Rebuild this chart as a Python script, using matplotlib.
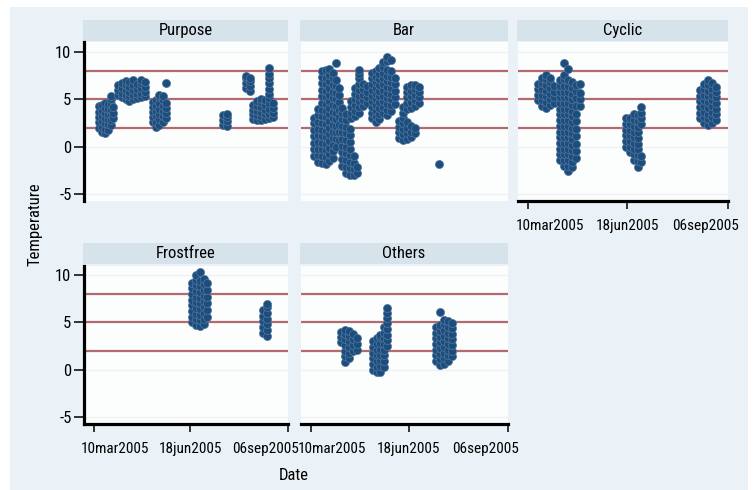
import matplotlib
matplotlib.use("Agg")
import matplotlib.pyplot as plt
from matplotlib.patches import Rectangle
from matplotlib import font_manager
import numpy as np

names = {f.name for f in font_manager.fontManager.ttflist}
cands = ['Roboto Condensed', 'Liberation Sans Narrow', 'DejaVu Sans Condensed', 'Open Sans Condensed']
avail = [c for c in cands if c in names]
plt.rcParams['font.family'] = avail + ['Liberation Sans', 'DejaVu Sans']
NARROW = len(avail) > 0

# ---------------- data ----------------
panel_names = ["Purpose", "Bar", "Cyclic", "Frostfree", "Others"]
ref_lines = [2, 5, 8]
y_ticks = [-5, 0, 5, 10]
x_tick_pos = [0, 100, 201]
x_label_pos = [22, 100, 178]
x_tick_labels = ["10mar2005", "18jun2005", "06sep2005"]

# each entry: (day index, temperatures observed that day)
purpose = [
    (6, [2.0, 2.6, 3.1, 3.7, 4.3]),
    (9, [1.5, 2.1, 2.7, 3.2, 3.8, 4.4]),
    (12, [1.4, 1.9, 2.5, 3.0, 3.6, 4.1, 4.6]),
    (15, [1.8, 2.4, 2.9, 3.5, 4.0, 4.5]),
    (18, [2.3, 2.8, 3.4, 3.9, 4.5, 5.0, 5.3]),
    (20, [3.0, 3.6, 4.2]),
    (25, [5.5, 6.0, 6.5]),
    (29, [5.2, 5.7, 6.2, 6.7]),
    (33, [5.0, 5.5, 6.0, 6.5, 6.9]),
    (37, [4.8, 5.3, 5.8, 6.3, 6.8]),
    (41, [5.0, 5.5, 6.0, 6.5, 7.0]),
    (45, [5.1, 5.6, 6.1, 6.6]),
    (49, [5.2, 5.7, 6.2, 6.7, 7.0]),
    (53, [5.3, 5.8, 6.3, 6.8]),
    (61, [2.6, 3.1, 3.7, 4.2, 4.7]),
    (64, [2.1, 2.6, 3.2, 3.8, 4.3, 4.9]),
    (68, [2.3, 2.9, 3.4, 4.0, 4.6, 5.2, 5.5]),
    (72, [2.6, 3.2, 3.8, 4.3, 4.9, 5.4]),
    (75, [3.0, 3.6, 4.1, 4.6, 6.7]),
    (134, [2.3, 2.8, 3.3]),
    (138, [2.2, 2.7, 3.1, 3.5]),
    (158, [6.2, 6.7, 7.2, 7.5]),
    (162, [5.9, 6.4, 6.9, 7.3]),
    (165, [2.9, 3.4, 3.9, 4.4]),
    (169, [2.8, 3.3, 3.8, 4.3, 4.8]),
    (173, [2.8, 3.2, 3.7, 4.2, 4.7, 5.0]),
    (177, [2.9, 3.4, 3.9, 4.4, 4.9]),
    (181, [3.0, 3.5, 4.0, 4.6, 5.1, 5.6, 6.1, 6.7, 7.2, 7.7, 8.3]),
    (185, [3.1, 3.6, 4.1, 4.6]),
]

bar = [
    (3, [-1.0, -0.3, 0.4, 1.1, 1.8, 2.5, 3.0]),
    (7, [-1.6, -0.9, -0.2, 0.5, 1.2, 1.9, 2.6, 3.3, 4.0]),
    (11, [-1.7, -1.0, -0.3, 0.4, 1.1, 1.8, 2.5, 3.2, 3.9, 4.6, 5.3, 6.0, 6.7, 7.4, 8.0]),
    (15, [-1.8, -1.1, -0.4, 0.3, 1.0, 1.7, 2.4, 3.1, 3.8, 4.5, 5.2, 5.9, 6.6, 7.3, 8.1]),
    (19, [-1.5, -0.8, -0.1, 0.6, 1.3, 2.0, 2.7, 3.4, 4.1, 4.8, 5.5, 6.2, 6.9, 7.6, 8.2]),
    (23, [-1.2, -0.5, 0.2, 0.9, 1.6, 2.3, 3.0, 3.7, 4.4, 5.1, 5.8, 6.5, 7.2, 7.8]),
    (26, [0.0, 0.8, 1.5, 2.2, 2.9, 3.6, 4.3, 5.0, 5.7, 6.4, 7.0, 8.8]),
    (29, [0.7, 1.5, 2.3, 3.1, 3.9, 4.7, 5.5, 6.2]),
    (32, [-2.0, -1.3, -0.6, 0.1, 0.8, 1.5, 2.2, 2.9, 3.6, 4.1]),
    (36, [-2.8, -2.1, -1.4, -0.7, 0.0, 0.7, 1.4, 2.1, 2.8, 3.5]),
    (40, [-3.0, -2.3, -1.6, -0.9, -0.2, 0.5, 1.2, 1.9]),
    (44, [-3.0, -2.4, -1.7, -1.0]),
    (47, [-2.8, -2.2]),
    (41, [3.0, 3.6, 4.2, 4.8]),
    (45, [3.2, 3.8, 4.4, 5.0, 5.6, 6.2]),
    (49, [3.6, 4.2, 4.8, 5.4, 6.0, 6.6, 7.2, 7.7, 8.1]),
    (53, [4.3, 4.9, 5.5, 6.1, 6.6]),
    (57, [4.6, 5.2, 5.8, 6.4]),
    (62, [3.0, 3.6, 4.2, 4.8, 5.4, 6.0, 6.6, 7.2, 7.8]),
    (66, [2.6, 3.2, 3.8, 4.4, 5.0, 5.6, 6.2, 6.8, 7.4, 8.0]),
    (70, [2.9, 3.5, 4.1, 4.7, 5.3, 5.9, 6.5, 7.1, 7.7, 8.3]),
    (74, [3.6, 4.2, 4.8, 5.4, 6.0, 6.6, 7.2, 7.8, 8.4, 8.9]),
    (78, [3.3, 3.9, 4.5, 5.1, 5.7, 6.3, 6.9, 7.5, 8.1, 9.0, 9.5]),
    (82, [3.8, 4.4, 5.0, 5.6, 6.2, 6.8, 7.4, 8.0, 9.2]),
    (86, [4.5, 5.2, 5.9, 6.6, 7.3]),
    (90, [0.9, 1.5, 2.1, 2.7]),
    (94, [0.7, 1.3, 1.9, 2.5, 3.0, 3.6, 4.2]),
    (98, [0.8, 1.4, 2.0, 2.6, 4.0, 4.6, 5.2, 5.8, 6.3]),
    (102, [1.0, 1.6, 2.2, 4.1, 4.7, 5.3, 5.9, 6.5]),
    (106, [1.4, 2.0, 4.3, 4.9, 5.5, 6.1, 6.5]),
    (110, [4.6, 5.2, 5.8, 6.3]),
    (131, [-1.8]),
]

cyclic = [
    (10, [4.9, 5.5, 6.1, 6.6]),
    (14, [4.3, 4.9, 5.5, 6.1, 6.7, 7.2]),
    (18, [4.1, 4.7, 5.3, 5.9, 6.5, 7.1, 7.6]),
    (22, [4.4, 5.0, 5.6, 6.2, 6.8, 7.3]),
    (26, [4.6, 5.2, 5.8, 6.4]),
    (32, [-1.4, -0.8, -0.2, 0.4, 1.0, 1.6, 2.2, 2.8, 3.4, 4.0, 4.6, 5.2, 5.8, 6.4, 7.0]),
    (36, [-2.0, -1.4, -0.8, -0.2, 0.4, 1.0, 1.6, 2.2, 2.8, 3.4, 4.0, 4.6, 5.2, 5.8, 6.4, 7.1, 7.6, 8.8]),
    (40, [-2.6, -2.0, -1.4, -0.8, -0.2, 0.4, 1.0, 1.6, 2.2, 2.8, 3.4, 4.0, 4.6, 5.2, 5.8, 6.4, 7.0, 8.2]),
    (44, [-2.2, -1.6, -1.0, -0.4, 0.2, 0.8, 1.4, 2.0, 2.6, 3.2, 3.8, 4.4, 5.0, 5.6, 6.2, 6.8]),
    (48, [-1.2, -0.5, 0.3, 1.1, 1.9, 2.7, 3.5, 4.3, 5.1, 5.9, 6.5]),
    (52, [4.3, 5.0, 5.7, 6.6]),
    (99, [0.0, 0.6, 1.2, 1.8, 2.4, 3.0]),
    (103, [-0.6, 0.0, 0.6, 1.2, 1.8, 2.4, 3.0]),
    (107, [-1.4, -0.8, -0.2, 0.4, 1.0, 1.6, 2.2, 2.8, 3.4]),
    (111, [-2.1, -1.5, -0.9, -0.3, 0.3, 0.9, 1.5, 2.1, 2.7, 3.3]),
    (114, [-1.6, -1.0, 2.4, 3.0, 3.6, 4.2]),
    (173, [3.0, 3.6, 4.2, 4.8, 5.4, 6.0]),
    (177, [2.5, 3.1, 3.7, 4.3, 4.9, 5.5, 6.1, 6.6]),
    (181, [2.3, 2.9, 3.5, 4.1, 4.7, 5.3, 5.9, 6.5, 7.0]),
    (185, [2.5, 3.1, 3.7, 4.3, 4.9, 5.5, 6.1, 6.7]),
    (189, [2.8, 3.4, 4.0, 4.6, 5.2, 5.8, 6.3]),
]

frostfree = [
    (102, [5.0, 5.6, 6.2, 6.8, 7.4, 8.0, 8.6, 9.2]),
    (106, [4.7, 5.3, 5.9, 6.5, 7.1, 7.7, 8.3, 8.9, 9.5, 10.0]),
    (110, [4.6, 5.2, 5.8, 6.4, 7.0, 7.6, 8.2, 8.8, 9.4, 10.3]),
    (114, [4.8, 5.4, 6.0, 6.6, 7.2, 7.8, 8.4, 9.0, 9.6]),
    (117, [5.6, 6.3, 7.0, 7.7, 8.4, 9.1]),
    (175, [3.9, 4.5, 5.1, 5.7, 6.3]),
    (179, [3.6, 4.2, 4.8, 5.4, 6.0, 6.6, 6.9]),
]

others = [
    (31, [2.9, 3.5, 4.0]),
    (35, [0.8, 1.4, 2.0, 2.6, 3.2, 3.8, 4.2]),
    (39, [1.2, 1.8, 2.4, 3.0, 3.6, 4.1]),
    (43, [2.0, 2.6, 3.2, 3.8]),
    (47, [2.1, 2.7, 3.3]),
    (63, [0.0, 0.6, 1.2, 1.8, 2.4, 3.0]),
    (67, [-0.3, 0.3, 0.9, 1.5, 2.1, 2.7, 3.3]),
    (71, [-0.2, 0.4, 1.0, 1.6, 2.2, 2.8, 3.4, 3.7]),
    (75, [0.3, 0.9, 1.5, 2.1, 2.7, 3.3, 3.9, 4.5]),
    (78, [2.5, 3.1, 3.7, 4.3, 4.9, 5.5, 6.0, 6.5]),
    (128, [0.9, 1.5, 2.1, 2.7, 3.3, 3.9, 4.5]),
    (132, [0.5, 1.1, 1.7, 2.3, 2.9, 3.5, 4.1, 4.7, 6.1]),
    (136, [0.6, 1.2, 1.8, 2.4, 3.0, 3.6, 4.2, 4.8, 5.2]),
    (140, [0.9, 1.5, 2.1, 2.7, 3.3, 3.9, 4.5, 5.1]),
    (144, [1.4, 2.0, 2.6, 3.2, 3.8, 4.4, 4.9]),
]

panel_data = [purpose, bar, cyclic, frostfree, others]

# ---------------- layout ----------------
W, H = 756, 490
fig = plt.figure(figsize=(W / 100, H / 100), dpi=100, facecolor="white")

BG = "#eaf2f7"
STRIP = "#d6e3eb"
PLOTBG = "#fcfdfd"
MARK = "#1b4d7e"
MARK_EDGE = "#56779a"
REDLINE = "#b26a70"

def fr(x, y, w, h):
    return [x / W, 1 - (y + h) / H, w / W, h / H]

fig.patches.append(Rectangle((10 / W, 0), 738 / W, 483 / H, transform=fig.transFigure,
                             facecolor=BG, edgecolor="none", zorder=-10))

# left, top, width, height (pixels); strip top, strip height
boxes = [
    (84, 42.5, 204, 158.6, 20, 21),
    (301, 42.5, 207, 158.6, 20, 21),
    (518, 42.5, 210, 158.6, 20, 21),
    (84, 265.5, 204, 158.6, 243, 21),
    (301, 265.5, 207, 158.6, 243, 21),
]
show_left = [True, False, False, True, False]
show_bottom = [False, False, True, True, True]

FS = 12 if NARROW else 10
FT = 11 if NARROW else 9
for name, data, (x0, y0, w, h, sy, sh), sl, sb in zip(panel_names, panel_data, boxes,
                                                       show_left, show_bottom):
    sax = fig.add_axes(fr(x0 - 1, sy, w + 1, sh))
    sax.set_facecolor(STRIP)
    sax.set_xticks([]); sax.set_yticks([])
    for s in sax.spines.values():
        s.set_visible(False)
    sax.text(0.5, 0.5, name, ha="center", va="center", fontsize=FS, transform=sax.transAxes)

    ax = fig.add_axes(fr(x0, y0, w, h))
    ax.set_facecolor(PLOTBG)
    ax.set_xlim(-10, 201)
    ax.set_ylim(-5.75, 11.0)
    for yv in y_ticks:
        ax.axhline(yv, color="#eef1f3", lw=0.9, zorder=1)
    for yv in ref_lines:
        ax.axhline(yv, color=REDLINE, lw=1.6, zorder=2)
    xs = np.concatenate([np.full(len(t), d, dtype=float) for d, t in data])
    ys = np.concatenate([np.array(t, dtype=float) for d, t in data])
    ax.scatter(xs, ys, s=34, facecolor=MARK, edgecolor=MARK_EDGE, linewidth=0.5, zorder=3)

    for side in ["top", "right"]:
        ax.spines[side].set_visible(False)
    ax.spines["left"].set_visible(sl)
    ax.spines["bottom"].set_visible(sb)
    ax.spines["left"].set_linewidth(2.3)
    ax.spines["bottom"].set_linewidth(2.3)

    if sl:
        ax.set_yticks(y_ticks)
        ax.set_yticklabels([str(v) for v in y_ticks], fontsize=FS)
        ax.tick_params(axis="y", length=7, width=1.1, pad=2)
    else:
        ax.set_yticks([])
    if sb:
        ax.xaxis.remove_overlapping_locs = False
        ax.set_xticks(x_tick_pos)
        ax.set_xticklabels([])
        ax.tick_params(axis="x", which="major", length=6, width=1.1)
        ax.set_xticks(x_label_pos, minor=True)
        ax.set_xticklabels(x_tick_labels, minor=True, fontsize=FT)
        ax.tick_params(axis="x", which="minor", length=0, pad=13)
    else:
        ax.set_xticks([])

fig.text(35 / W, 1 - 224 / H, "Temperature", rotation=90, ha="center", va="center", fontsize=FS)
fig.text(294 / W, 1 - 475 / H, "Date", ha="center", va="center", fontsize=FS)

fig.savefig("out.png", dpi=100, facecolor="white")
